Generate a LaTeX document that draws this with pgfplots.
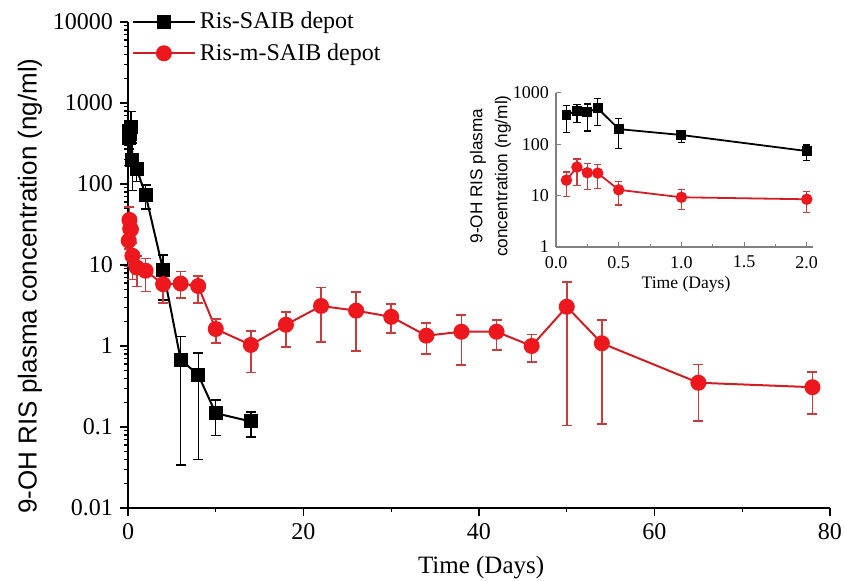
\documentclass[border=0pt]{standalone}
\usepackage{fontspec}
\setmainfont{Liberation Serif}
\setsansfont{Liberation Sans}
\usepackage{pgfplots}
\usepackage{pgfplotstable}
\pgfplotsset{compat=1.18}

\definecolor{redline}{RGB}{208,30,36}
\definecolor{redmark}{RGB}{236,24,30}
\definecolor{rederr}{RGB}{200,60,60}

% t (days), concentration, error plus, error minus
\pgfplotstableread{
t      c      ep     em
0.083  373    207    205
0.167  452    150    183
0.25   420    190    238
0.333  503    287    273
0.5    198    123    115
1      152    24     45
2      74     23     25
4      8.7    4.6    5.0
6      0.68   0.62   0.646
8      0.44   0.38   0.40
10     0.148  0.067  0.07
14     0.117  0.036  0.042
}\saibdata

\pgfplotstableread{
t      c      ep     em
0.083  20     9      10.4
0.167  36     16     20.2
0.25   28     14     14.6
0.333  27.5   12.5   13.7
0.5    13     5.6    6.4
1      9.3    3.7    3.9
2      8.5    3.5    3.8
4      5.8    2.6    2.4
6      5.9    2.4    2.0
8      5.5    1.8    2.1
10     1.62   0.53   0.53
14     1.03   0.51   0.56
18     1.83   0.82   0.85
22     3.12   2.13   2.0
26     2.73   1.95   1.86
30     2.29   1.01   0.85
34     1.34   0.57   0.55
38     1.50   0.91   0.92
42     1.50   0.59   0.61
46     1.0    0.38   0.37
50     3.05   3.15   2.946
54     1.08   1.01   0.972
65     0.352  0.238  0.233
78     0.31   0.17   0.166
}\msaibdata

\begin{document}
\begin{tikzpicture}
\path[use as bounding box] (-64pt,-36.5pt) rectangle (358pt,254pt);

\begin{axis}[
    scale only axis, width=351pt, height=243pt,
    ymode=log, clip=false,
    xmin=0, xmax=80, ymin=0.01, ymax=10000,
    axis x line*=bottom, axis y line*=left,
    axis line style={line width=0.8pt, -},
    xtick={0,20,40,60,80}, minor xtick={10,30,50,70},
    xticklabels={0,20,40,60,80},
    ytick={0.01,0.1,1,10,100,1000,10000},
    yticklabels={0.01,0.1,1,10,100,1000,10000},
    tick align=outside, major tick length=4pt, minor tick length=2pt,
    tick style={line width=0.7pt, black},
    ticklabel style={font=\fontsize{12}{14}\selectfont},
    xlabel={Time (Days)},
    xlabel style={at={(axis description cs:0.503,-0.1235)}, anchor=center,
        font=\fontsize{12.5}{14}\selectfont},
    ylabel={9-OH RIS plasma concentration (ng/ml)},
    ylabel style={at={(axis description cs:-0.1396,0.457)}, anchor=center,
        font=\sffamily\fontsize{13}{15}\selectfont},
    legend style={at={(axis description cs:0.005,1.03)}, anchor=north west,
        draw=none, fill=none, font=\fontsize{12}{14}\selectfont,
        row sep=2pt, inner sep=0pt},
    legend cell align=left,
    legend image code/.code={\draw[mark repeat=2,mark phase=2]
        plot coordinates {(0pt,0pt) (15.5pt,0pt) (31pt,0pt)};},
]
\addplot[black, line width=1pt, mark=square*, mark size=3pt,
    error bars/.cd, y dir=both, y explicit,
    error bar style={line width=0.7pt, black},
    error mark options={rotate=90, mark size=2.5pt, line width=0.7pt, black}]
    table[x=t, y=c, y error plus=ep, y error minus=em] {\saibdata};
\addlegendentry{Ris-SAIB depot}

\addplot[redline, line width=1pt, mark=*, mark size=3.5pt,
    mark options={fill=redmark, draw=redmark},
    error bars/.cd, y dir=both, y explicit,
    error bar style={line width=0.8pt, rederr},
    error mark options={rotate=90, mark size=2.5pt, line width=0.8pt, rederr}]
    table[x=t, y=c, y error plus=ep, y error minus=em] {\msaibdata};
\addlegendentry{Ris-m-SAIB depot}
\end{axis}

\begin{axis}[
    at={(214pt,130.5pt)}, anchor=south west,
    scale only axis, width=128.5pt, height=77pt,
    ymode=log, clip=false,
    xmin=0, xmax=2.05, ymin=1, ymax=1000,
    axis x line*=bottom, axis y line*=left,
    axis line style={gray, line width=0.6pt, -},
    xtick={0,0.5,1,1.5,2}, minor xtick={0.25,0.75,1.25,1.75},
    xticklabels={0.0,0.5,1.0,1.5,2.0},
    ytick={1,10,100,1000}, yticklabels={1,10,100,1000},
    yminorticks=false,
    tick align=inside, major tick length=2.5pt, minor tick length=1.5pt,
    tick style={gray, line width=0.5pt},
    ticklabel style={font=\fontsize{9}{10}\selectfont},
    xticklabel style={yshift=-1pt},
    xlabel={Time (Days)},
    xlabel style={at={(axis description cs:0.506,-0.24)}, anchor=center,
        font=\fontsize{8.8}{10}\selectfont},
    ylabel={9-OH RIS plasma\\concentration (ng/ml)},
    ylabel style={at={(axis description cs:-0.255,0.46)}, anchor=center,
        align=center, font=\sffamily\fontsize{8.6}{12.5}\selectfont},
]
\addplot[black, line width=0.9pt, mark=square*, mark size=2pt,
    error bars/.cd, y dir=both, y explicit,
    error bar style={line width=0.6pt, black},
    error mark options={rotate=90, mark size=1.8pt, line width=0.6pt, black}]
    table[x=t, y=c, y error plus=ep, y error minus=em,
        restrict x to domain=0:2.05] {\saibdata};
\addplot[redline, line width=0.9pt, mark=*, mark size=2.4pt,
    mark options={fill=redmark, draw=redmark},
    error bars/.cd, y dir=both, y explicit,
    error bar style={line width=0.6pt, rederr},
    error mark options={rotate=90, mark size=1.8pt, line width=0.6pt, rederr}]
    table[x=t, y=c, y error plus=ep, y error minus=em,
        restrict x to domain=0:2.05] {\msaibdata};
\end{axis}
\end{tikzpicture}
\end{document}
